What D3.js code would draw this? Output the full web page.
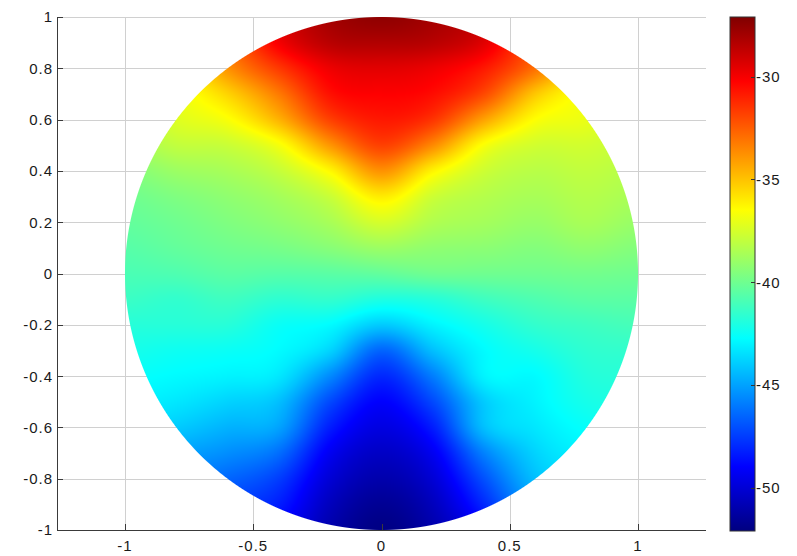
<!DOCTYPE html>
<html>
<head>
<meta charset="utf-8">
<script src="https://cdn.jsdelivr.net/npm/d3@7"></script>
<style>
  html, body { margin: 0; padding: 0; background: #fff; }
  text { font-family: "Liberation Sans", Arial, Helvetica, sans-serif; }
</style>
</head>
<body>
<svg id="chart" width="797" height="556"></svg>
<script>
// ---------------- data ----------------
const xGrid = [-1, -0.8, -0.6, -0.4, -0.2, 0, 0.2, 0.4, 0.6, 0.8, 1];
const yGrid = [1, 0.9, 0.8, 0.7, 0.6, 0.5, 0.4, 0.3, 0.2, 0.1, 0,
               -0.1, -0.2, -0.3, -0.4, -0.5, -0.6, -0.7, -0.8, -0.9, -1];

const rowP10 = [-38, -36, -32.5, -29.5, -28, -27.5, -28, -29, -32, -35.5, -37.5];
const rowP09 = [-38, -36, -33, -30, -28.5, -28.3, -28.5, -29.5, -32.5, -35.5, -37.5];
const rowP08 = [-38, -36.5, -33.8, -31.6, -29.8, -29.5, -29.8, -30.8, -33, -36, -37.5];
const rowP07 = [-38.5, -37, -35.4, -33.2, -30.6, -30.2, -30.5, -32, -35.1, -36.8, -38];
const rowP06 = [-38.5, -37.3, -36.6, -34.6, -31.8, -30.8, -31.5, -34.2, -36.5, -37, -38];
const rowP05 = [-38.8, -38, -37.8, -36.7, -33.9, -31.8, -33.6, -36.6, -37.6, -37.6, -38];
const rowP04 = [-39.5, -38.9, -38.6, -37.9, -36.3, -33.8, -36.2, -37.7, -38.2, -38, -38.3];
const rowP03 = [-40, -39.6, -39.2, -38.7, -37.8, -36, -37.7, -38.3, -38.6, -38.3, -38.6];
const rowP02 = [-40.3, -40, -39.6, -39.2, -38.6, -37.5, -38.4, -38.7, -39, -38.6, -39];
const rowP01 = [-40.6, -40.3, -40, -39.8, -39.4, -38.9, -39.2, -39.3, -39.5, -39.2, -39.5];
const rowZ00 = [-40.9, -40.8, -40.5, -40.6, -40.5, -40.3, -40, -40, -40, -39.9, -40];
const rowM01 = [-41.3, -41.5, -41.2, -41.6, -41.5, -42, -41.8, -41.2, -40.8, -40.5, -40.5];
const rowM02 = [-41.8, -41.8, -41.8, -42.5, -42.8, -44, -43, -42.2, -41.5, -41.2, -41];
const rowM03 = [-42.2, -42.4, -42.5, -42.8, -43.8, -46.5, -44.3, -42.8, -42.2, -41.6, -41.5];
const rowM04 = [-42.6, -42.8, -43, -43.3, -45.6, -48, -45.9, -43, -42.8, -41.9, -41.8];
const rowM05 = [-43, -43.3, -43.8, -44.3, -47.2, -49, -47.2, -44, -43, -42.2, -42];
const rowM06 = [-43.5, -44, -44.6, -45, -48.3, -49.7, -48.3, -44.3, -43.3, -42.6, -42.3];
const rowM07 = [-44.5, -45, -45.5, -46.3, -49.3, -50.4, -49.3, -45.8, -43.8, -43, -42.8];
const rowM08 = [-45.5, -46, -46.5, -47.5, -50, -51, -50, -47, -44.3, -43.5, -43.3];
const rowM09 = [-46.5, -47, -47.5, -48.3, -50.6, -51.6, -50.6, -48, -45, -44, -44];
const rowM10 = [-47.5, -48, -48.5, -49, -51, -52, -51, -49, -46, -45, -45];

const fieldRows = [rowP10, rowP09, rowP08, rowP07, rowP06, rowP05, rowP04, rowP03, rowP02, rowP01,
                   rowZ00, rowM01, rowM02, rowM03, rowM04, rowM05, rowM06, rowM07, rowM08, rowM09, rowM10];

const xTicks = [-1, -0.5, 0, 0.5, 1];
const yTicks = [-1, -0.8, -0.6, -0.4, -0.2, 0, 0.2, 0.4, 0.6, 0.8, 1];
const cbarTicks = [-30, -35, -40, -45, -50];
const cbarRange = [-52.1, -27.1];

// jet colormap anchors (fraction of colour range -> colour)
const jetStops = [0, 0.125, 0.375, 0.625, 0.875, 1];
const jetColors = ["#000080", "#0000ff", "#00ffff", "#ffff00", "#ff0000", "#800000"];

// ---------------- layout ----------------
const svg = d3.select("#chart");
const ax = { left: 57, right: 706, top: 17, bottom: 530 };
const xScale = d3.scaleLinear().domain([-1.265, 1.265]).range([ax.left, ax.right]);
const yScale = d3.scaleLinear().domain([-1, 1]).range([ax.bottom, ax.top]);

const vmin = cbarRange[0], vmax = cbarRange[1];
const color = d3.scaleLinear()
  .domain(jetStops.map(t => vmin + t * (vmax - vmin)))
  .range(jetColors)
  .interpolate(d3.interpolateRgb)
  .clamp(true);

const fmt = v => String(v);
const textColor = "#1a1a1a";
const fontSize = 15;
const spacing = 1;

// ---------------- grid ----------------
const grid = svg.append("g").attr("stroke", "#d0d0d0").attr("stroke-width", 1);
grid.selectAll("line.gx").data(xTicks).join("line")
  .attr("x1", d => Math.round(xScale(d)) + 0.5).attr("x2", d => Math.round(xScale(d)) + 0.5)
  .attr("y1", ax.top).attr("y2", ax.bottom);
grid.selectAll("line.gy").data(yTicks).join("line")
  .attr("y1", d => Math.round(yScale(d)) + 0.5).attr("y2", d => Math.round(yScale(d)) + 0.5)
  .attr("x1", ax.left).attr("x2", ax.right);

// ---------------- field (smoothly shaded surface inside the disc) ----------------
function cubic(p0, p1, p2, p3, t) {
  return p1 + 0.5 * t * (p2 - p0 + t * (2 * p0 - 5 * p1 + 4 * p2 - p3 + t * (3 * (p1 - p2) + p3 - p0)));
}
function sampleField(x, y) {
  const nx = xGrid.length, ny = yGrid.length;
  let i = d3.bisectRight(xGrid, x) - 1;
  i = Math.max(0, Math.min(nx - 2, i));
  let j = 0;
  while (j < ny - 2 && yGrid[j + 1] > y) j++;
  const tx = (x - xGrid[i]) / (xGrid[i + 1] - xGrid[i]);
  const ty = (y - yGrid[j]) / (yGrid[j + 1] - yGrid[j]);
  const ci = k => Math.max(0, Math.min(nx - 1, k));
  const cj = k => Math.max(0, Math.min(ny - 1, k));
  const rowVal = jj => {
    const row = fieldRows[cj(jj)];
    return cubic(row[ci(i - 1)], row[ci(i)], row[ci(i + 1)], row[ci(i + 2)], tx);
  };
  return cubic(rowVal(j - 1), rowVal(j), rowVal(j + 1), rowVal(j + 2), ty);
}

const px0 = Math.floor(xScale(-1)) - 1, px1 = Math.ceil(xScale(1)) + 1;
const py0 = Math.floor(yScale(1)) - 1, py1 = Math.ceil(yScale(-1)) + 1;
const cw = px1 - px0, ch = py1 - py0;
const canvas = document.createElement("canvas");
canvas.width = cw; canvas.height = ch;
const ctx = canvas.getContext("2d");
const img = ctx.createImageData(cw, ch);
const pxPerUnit = yScale(0) - yScale(1);
for (let r = 0; r < ch; r++) {
  const y = yScale.invert(py0 + r + 0.5);
  for (let c = 0; c < cw; c++) {
    const x = xScale.invert(px0 + c + 0.5);
    const rad = Math.sqrt(x * x + y * y);
    const alpha = Math.max(0, Math.min(1, (1 - rad) * pxPerUnit + 0.5));
    const k = (r * cw + c) * 4;
    if (alpha <= 0) { img.data[k + 3] = 0; continue; }
    const col = d3.rgb(color(sampleField(x, y)));
    img.data[k] = col.r; img.data[k + 1] = col.g; img.data[k + 2] = col.b;
    img.data[k + 3] = Math.round(alpha * 255);
  }
}
ctx.putImageData(img, 0, 0);
svg.append("image")
  .attr("x", px0).attr("y", py0).attr("width", cw).attr("height", ch)
  .attr("href", canvas.toDataURL());

// ---------------- axes ----------------
const axisG = svg.append("g").attr("stroke", "#3a3a3a").attr("stroke-width", 1);
axisG.append("line").attr("x1", ax.left + 0.5).attr("x2", ax.left + 0.5)
  .attr("y1", ax.top).attr("y2", ax.bottom + 0.5);
axisG.append("line").attr("x1", ax.left).attr("x2", ax.right)
  .attr("y1", ax.bottom + 0.5).attr("y2", ax.bottom + 0.5);
axisG.selectAll("line.ty").data(yTicks).join("line")
  .attr("x1", ax.left).attr("x2", ax.left + 6)
  .attr("y1", d => Math.round(yScale(d)) + 0.5).attr("y2", d => Math.round(yScale(d)) + 0.5);
axisG.selectAll("line.tx").data(xTicks).join("line")
  .attr("x1", d => Math.round(xScale(d)) + 0.5).attr("x2", d => Math.round(xScale(d)) + 0.5)
  .attr("y1", ax.bottom).attr("y2", ax.bottom - 6);

svg.append("g").selectAll("text").data(yTicks).join("text")
  .attr("x", ax.left - 4).attr("y", d => yScale(d)).attr("dy", "0.36em")
  .attr("text-anchor", "end").attr("font-size", fontSize).attr("letter-spacing", spacing)
  .attr("fill", textColor).text(fmt);

svg.append("g").selectAll("text").data(xTicks).join("text")
  .attr("x", d => xScale(d)).attr("y", ax.bottom + 21)
  .attr("text-anchor", "middle").attr("font-size", fontSize).attr("letter-spacing", spacing)
  .attr("fill", textColor).text(fmt);

// ---------------- colorbar ----------------
const cb = { left: 730, right: 755, top: 17, bottom: 531 };
const cScale = d3.scaleLinear().domain([vmin, vmax]).range([cb.bottom, cb.top]);
const defs = svg.append("defs");
const grad = defs.append("linearGradient").attr("id", "jetgrad")
  .attr("x1", 0).attr("y1", 1).attr("x2", 0).attr("y2", 0);
grad.selectAll("stop").data(jetStops).join("stop")
  .attr("offset", d => d).attr("stop-color", (d, i) => jetColors[i]);
svg.append("rect").attr("x", cb.left).attr("y", cb.top)
  .attr("width", cb.right - cb.left).attr("height", cb.bottom - cb.top)
  .attr("fill", "url(#jetgrad)").attr("stroke", "#333").attr("stroke-width", 1);
svg.append("g").attr("stroke", "#333").selectAll("line").data(cbarTicks).join("line")
  .attr("x1", cb.right - 4).attr("x2", cb.right)
  .attr("y1", d => Math.round(cScale(d)) + 0.5).attr("y2", d => Math.round(cScale(d)) + 0.5);
svg.append("g").selectAll("text").data(cbarTicks).join("text")
  .attr("x", cb.right + 1).attr("y", d => cScale(d)).attr("dy", "0.36em")
  .attr("font-size", fontSize).attr("letter-spacing", spacing)
  .attr("fill", textColor).text(fmt);
</script>
</body>
</html>
